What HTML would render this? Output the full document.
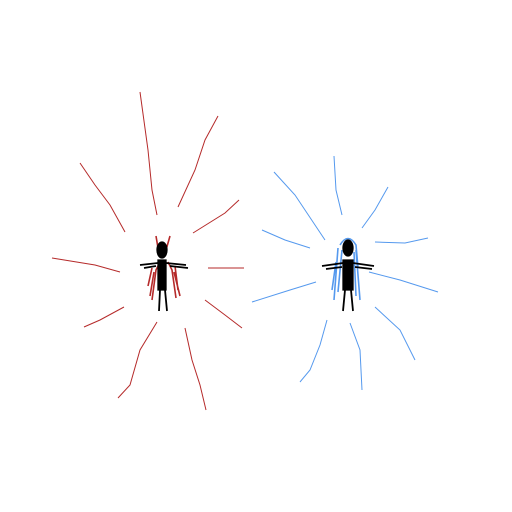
<!DOCTYPE html>
<html><head><meta charset="utf-8"><style>html,body{margin:0;padding:0;background:#fff;width:512px;height:512px;overflow:hidden}</style></head>
<body>
<svg width="512" height="512" viewBox="0 0 512 512">
<g fill="none" stroke="#b52a2a" stroke-width="1">
<polyline points="140,92 148,150 152,190 157,215"/>
<polyline points="218,116 205,140 195,170 178,207"/>
<polyline points="80,163 95,185 110,205 125,232"/>
<polyline points="239,200 225,213 193,233"/>
<polyline points="52,258 95,265 120,272"/>
<polyline points="208,268 244,268"/>
<polyline points="84,327 100,320 124,307"/>
<polyline points="205,300 225,315 242,328"/>
<polyline points="157,322 140,350 130,385 118,398"/>
<polyline points="185,328 192,360 200,385 206,410"/>
</g>
<g fill="none" stroke="#5599ee" stroke-width="1">
<polyline points="334,156 336,190 342,215"/>
<polyline points="274,172 295,195 325,240"/>
<polyline points="388,187 375,210 362,228"/>
<polyline points="262,230 285,240 310,248"/>
<polyline points="428,238 405,243 375,242"/>
<polyline points="252,302 290,290 316,282"/>
<polyline points="369,272 400,280 438,292"/>
<polyline points="327,320 320,345 310,370 300,382"/>
<polyline points="350,323 360,350 362,390"/>
<polyline points="375,307 400,330 415,360"/>
</g>
<g fill="none" stroke-width="1.3">
<g stroke="#b52a2a" stroke-width="1.6">
<path d="M156,236 L158,248 M170,236 L166,250 M152,300 L156,270 L160,262 M150,296 L154,272 M176,298 L172,270 L168,262 M180,296 L174,272 M148,286 L152,268 M178,290 L175,266"/>
</g>
<g stroke="#000">
<ellipse cx="162" cy="250" rx="5" ry="8" fill="#000"/>
<path d="M158,260 L166,260 L166,290 L158,290 Z" fill="#000"/>
<path d="M140,265 L158,263 L166,263 L186,265 M144,268 L156,266 M170,266 L188,268 M160,290 L159,311 M165,290 L167,311" stroke-width="1.8"/>
</g>
</g>
<g fill="none" stroke-width="1.3">
<g stroke="#5599ee" stroke-width="1.6">
<path d="M340,245 Q348,232 356,245 L358,268 M338,248 L334,300 M356,250 L360,300 M342,250 L338,292 M354,252 L356,296 M332,290 L336,262"/>
</g>
<g stroke="#000">
<ellipse cx="348" cy="248" rx="5" ry="8" fill="#000"/>
<path d="M343,260 L353,260 L353,290 L343,290 Z" fill="#000"/>
<path d="M322,266 L343,263 L353,263 L374,266 M326,269 L342,267 M355,267 L372,269 M345,290 L343,311 M351,290 L353,311" stroke-width="1.8"/>
</g>
</g>
</svg>
</body></html>
